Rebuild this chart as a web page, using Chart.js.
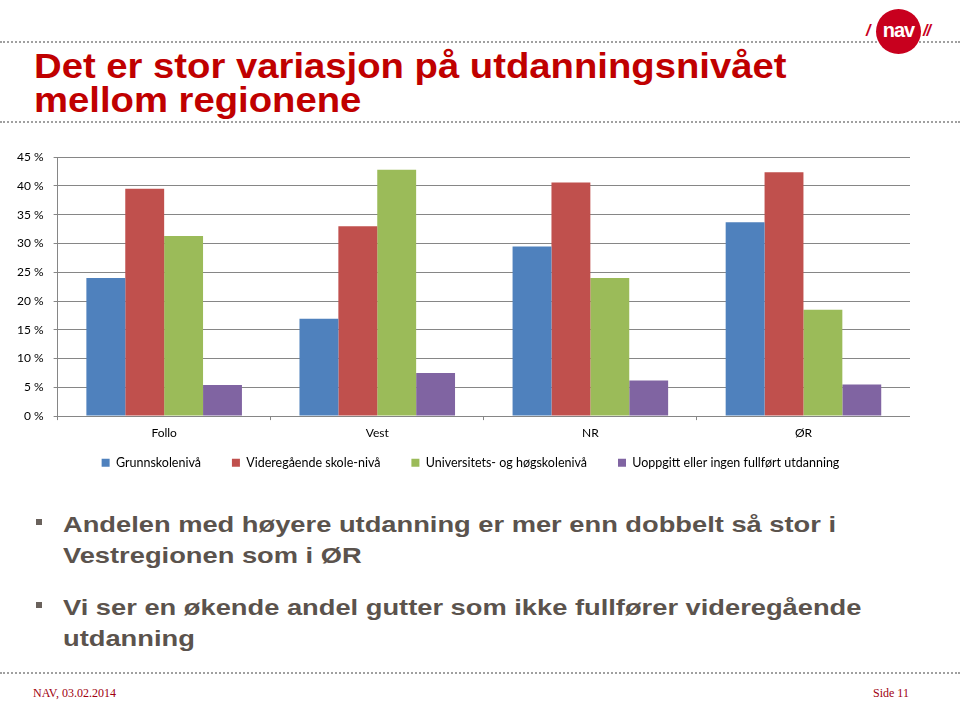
<!DOCTYPE html>
<html lang="no">
<head>
  <meta charset="UTF-8" />
  <title>Utdanningsnivå mellom regionene</title>
  <script src="https://cdn.jsdelivr.net/npm/chart.js"></script>
  <style>
    html, body { margin: 0; padding: 0; background: #fff; }
    body { width: 960px; height: 702px; position: relative; overflow: hidden; font-family: "Liberation Sans", Arial, sans-serif; }
    .dots { position: absolute; left: 0; width: 960px; border-top: 2px dotted #a0a0a0; height: 0; }
    h1 { position: absolute; left: 34px; top: 49px; margin: 0; color: #c00000; font-size: 35px; line-height: 34px; font-weight: bold; white-space: nowrap; transform: scaleX(1.093); transform-origin: 0 0; }
    /* NAV logo */
    .circ { position: absolute; left: 876px; top: 9px; width: 45px; height: 45px; border-radius: 50%; background: #c8001e; }
    .nav { position: absolute; left: 876px; top: 19px; width: 45px; text-align: center; color: #fff; font: bold 20px "Liberation Sans", Arial, sans-serif; letter-spacing: -1px; }
    .sl { position: absolute; top: 22px; color: #c8001e; font: bold italic 16px "Liberation Sans", Arial, sans-serif; letter-spacing: -1px; background: #fff; }
    #wrap { position: absolute; left: 0; top: 140px; width: 910px; height: 360px; }
    ul { position: absolute; left: 0; top: 509px; margin: 0; padding: 0; list-style: none; width: 960px; }
    li { position: relative; padding-left: 63px; color: #5b534d; font-weight: bold; font-size: 22px; line-height: 31px; margin-bottom: 21px; white-space: nowrap; }
    li span { display: inline-block; transform: scaleX(1.24); transform-origin: 0 0; }
    li::before { content: ""; position: absolute; left: 36px; top: 10px; width: 6px; height: 6px; background: #6a625c; }
    .foot { position: absolute; top: 686px; color: #a00010; font: 12px "Liberation Serif", "Times New Roman", serif; }
  </style>
</head>
<body>
  <div class="dots" style="top:41px"></div>
  <div class="circ"></div>
  <div class="nav">nav</div>
  <div class="sl" style="left:866px">/</div>
  <div class="sl" style="left:923px">//</div>
  <h1>Det er stor variasjon på utdanningsnivået<br>mellom regionene</h1>
  <div class="dots" style="top:121px"></div>

  <div id="wrap"><canvas id="chart"></canvas></div>

  <ul>
    <li><span>Andelen med høyere utdanning er mer enn dobbelt så stor i<br>Vestregionen som i ØR</span></li>
    <li><span>Vi ser en økende andel gutter som ikke fullfører videregående<br>utdanning</span></li>
  </ul>

  <div class="dots" style="top:672px"></div>
  <div class="foot" style="left:33px">NAV, 03.02.2014</div>
  <div class="foot" style="left:873px">Side 11</div>

  <script>
    const regions = ['Follo', 'Vest', 'NR', 'ØR'];
    const grunnskole = [24.0, 16.9, 29.5, 33.7];
    const videregaende = [39.5, 33.0, 40.6, 42.4];
    const universitet = [31.3, 42.8, 24.0, 18.5];
    const uoppgitt = [5.4, 7.5, 6.2, 5.5];
    const seriesNames = ['Grunnskolenivå', 'Videregående skole-nivå', 'Universitets- og høgskolenivå', 'Uoppgitt eller ingen fullført utdanning'];
    const colors = ['#4f81bd', '#c0504d', '#9bbb59', '#8064a2'];

    // move the legend row up and a bit right, like in the slide
    const legendShift = {
      id: 'legendShift',
      afterLayout(chart) {
        const lg = chart.legend;
        lg.top -= 21; lg.bottom -= 21;
        lg.left += 12; lg.right += 12;
      }
    };

    const ctx = document.getElementById('chart').getContext('2d');
    new Chart(ctx, {
      type: 'bar',
      data: {
        labels: regions,
        datasets: [grunnskole, videregaende, universitet, uoppgitt].map((vals, i) => ({
          label: seriesNames[i],
          data: vals,
          backgroundColor: colors[i],
          borderWidth: 0
        }))
      },
      options: {
        responsive: true,
        maintainAspectRatio: false,
        animation: false,
        layout: { padding: { left: 7, top: 6, right: 0, bottom: 0 } },
        plugins: {
          legend: {
            position: 'bottom',
            labels: {
              boxWidth: 8, boxHeight: 8, padding: 31,
              color: '#000',
              font: { family: 'Lato', size: 12.5 }
            }
          },
          tooltip: { enabled: false }
        },
        datasets: { bar: { categoryPercentage: 0.73, barPercentage: 1.0 } },
        scales: {
          x: {
            grid: { display: true, drawOnChartArea: false, offset: true, tickLength: 4, color: '#868686' },
            border: { color: '#868686' },
            ticks: { color: '#000', font: { family: 'Lato', size: 12 }, padding: 6 }
          },
          y: {
            min: 0, max: 45,
            ticks: {
              stepSize: 5, color: '#000', padding: 10,
              font: { family: 'Lato', size: 12 },
              callback: v => v + ' %'
            },
            grid: { color: '#868686', drawTicks: true, tickLength: 4 },
            border: { color: '#868686' }
          }
        }
      },
      plugins: [legendShift]
    });
  </script>
</body>
</html>
